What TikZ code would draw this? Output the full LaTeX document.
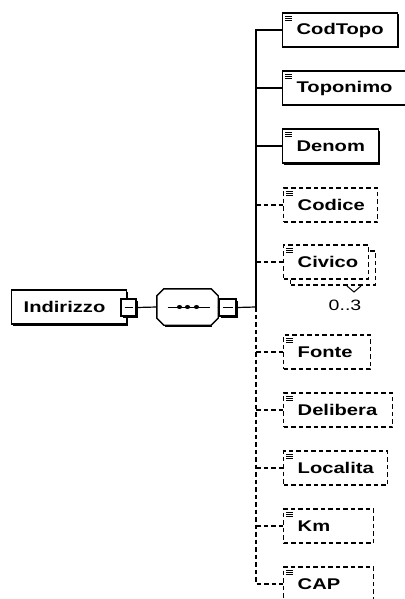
\documentclass[tikz,border=0pt]{standalone}
\usepackage{fontspec}
\setmainfont{Liberation Sans}
\newfontfamily\lblfont[FakeStretch=1.3]{Liberation Sans}
\usetikzlibrary{shadows}
\newcommand\elicon[1]{%
  \foreach \k in {4,6,8}{\draw[line width=0.9pt] ([xshift=3pt,yshift=-\k pt]#1.north west) -- ++(7,0);}}
\begin{document}
\begin{tikzpicture}[x=1pt,y=-1pt,
  every node/.style={inner sep=0pt},
  lbl/.style={font=\lblfont\fontsize{15.5}{16}\selectfont\bfseries},
  shad/.style={drop shadow={shadow xshift=1.5pt,shadow yshift=-1.5pt,opacity=1,fill=black}},
  reqbox/.style={draw,line width=1.3pt,fill=white,minimum height=34pt,anchor=west,inner xsep=14pt,align=left,lbl,shad},
  optbox/.style={draw,line width=1.4pt,dash pattern=on 4.5pt off 3pt,fill=white,minimum height=34pt,anchor=west,inner xsep=14pt,align=left,lbl},
  minusbox/.style={draw,line width=1.2pt,fill=white,minimum width=15pt,minimum height=17pt,shad},
  seqbox/.style={minimum width=61pt,minimum height=36pt},
  conn/.style={line width=1.2pt},
  dconn/.style={line width=1.2pt,dash pattern=on 4.5pt off 3pt},
  bus/.style={line width=1.5pt}
]
\useasboundingbox (0,0) rectangle (404,599);

% main row
\node[reqbox,text width=91pt,inner xsep=12pt] (indirizzo) at (11,307) {Indirizzo};
\node[minusbox] (m1) at (128.5,307.5) {};
\draw[line width=1pt] ([xshift=-4pt]m1.center) -- ([xshift=4pt]m1.center);
\node[seqbox] (seq) at (187.5,307) {};
\draw[line width=1.4pt,fill=white] ([xshift=7pt]seq.north west) -- ([xshift=-7pt]seq.north east)
  -- ([yshift=-7pt]seq.north east) -- ([yshift=7pt]seq.south east)
  -- ([xshift=-7pt]seq.south east) -- ([xshift=7pt]seq.south west)
  -- ([yshift=7pt]seq.south west) -- ([yshift=-7pt]seq.north west) -- cycle;
\draw[line width=1.4pt] ([xshift=8pt,yshift=-1.3pt]seq.south west) -- ([xshift=-6pt,yshift=-1.3pt]seq.south east);
\draw[line width=1pt] ([xshift=-20pt]seq.center) -- ([xshift=22pt]seq.center);
\foreach \d in {-8,0,9}{\fill ([xshift=\d pt]seq.center) ellipse (2.6 and 2);}
\node[minusbox,minimum width=17pt] (m2) at (227.5,307.5) {};
\draw[line width=1pt] ([xshift=-5pt]m2.center) -- ([xshift=5pt]m2.center);
\draw[conn] (m1.east) -- (seq.west);
\draw[conn] (seq.east) -- (m2.west);

% children
\node[reqbox,text width=87pt] (codtopo) at (282,30) {CodTopo};
\node[reqbox,text width=97pt] (toponimo) at (282,88) {Toponimo};
\node[reqbox,text width=68pt] (denom) at (282,146) {Denom};
\node[optbox,text width=66pt] (codice) at (283,205) {Codice};
\node[optbox,text width=57pt] (civicoback) at (290,268) {};
\node[optbox,text width=57pt] (civico) at (283,262) {Civico};
\node[optbox,text width=59pt] (fonte) at (283,352) {Fonte};
\node[optbox,text width=81pt] (delibera) at (283,410) {Delibera};
\node[optbox,text width=76pt] (localita) at (283,468) {Localita};
\node[optbox,text width=62pt] (km) at (283,526) {Km};
\node[optbox,text width=62pt] (cap) at (283,584) {CAP};
\foreach \n in {codtopo,toponimo,denom,codice,civico,fonte,delibera,localita,km,cap}{\elicon{\n}}

\node[font=\lblfont\fontsize{15}{15}\selectfont] (occ) at (345,305) {0..3};
\draw[line width=1pt] (347,286) -- (354,292) -- (361,286);

% bus
\coordinate (bmain) at (256,307);
\coordinate (btop) at (256,30);
\coordinate (bbot) at (256,584);
\draw[conn] (m2.east) -- (bmain);
\draw[bus] (codtopo.west) -- (btop) -- (bmain);
\draw[bus,dash pattern=on 4.5pt off 3pt] (bmain) -- (bbot) -- (cap.west);
\foreach \n/\y in {toponimo/88,denom/146}{
  \coordinate (b-\n) at (256,\y);
  \draw[conn] (b-\n) -- (\n.west);}
\foreach \n/\y in {codice/205,civico/262,fonte/352,delibera/410,localita/468,km/526}{
  \coordinate (b-\n) at (256,\y);
  \draw[dconn] (b-\n) -- (\n.west);}
\end{tikzpicture}
\end{document}
